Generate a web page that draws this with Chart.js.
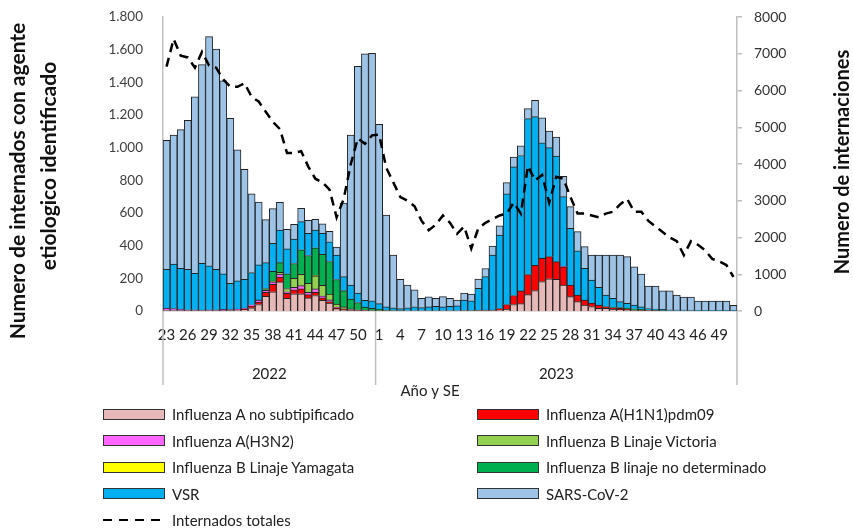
<!DOCTYPE html>
<html>
<head>
<meta charset="utf-8">
<script src="https://cdn.jsdelivr.net/npm/chart.js@4.4.1/dist/chart.umd.min.js"></script>
<style>
  html, body { margin: 0; padding: 0; background: #fff; }
  #wrap { position: relative; width: 853px; height: 529px; }
  #legend { position: absolute; left: 0; top: 0; font-family: Lato, 'Liberation Sans', sans-serif; font-size: 15px; color: #222; }
  .item { position: absolute; display: flex; align-items: center; height: 20px; white-space: nowrap; }
  .swatch { width: 60px; height: 9px; border: 1px solid #333; margin-right: 7px; }
  .dash { width: 62px; height: 2.5px; margin-right: 7px; background: repeating-linear-gradient(90deg, #000 0 9px, transparent 9px 16px); }
</style>
</head>
<body>
<div id="wrap">
  <canvas id="chart" width="853" height="529"></canvas>
  <div id="legend"></div>
</div>
<script>
// Semanas epidemiologicas: 2022 SE 23-52, 2023 SE 1-51
const weeks = [
  '23','24','25','26','27','28','29','30','31','32','33','34','35','36','37',
  '38','39','40','41','42','43','44','45','46','47','48','49','50','51','52',
  '1','2','3','4','5','6','7','8','9','10','11','12','13','14','15','16','17',
  '18','19','20','21','22','23','24','25','26','27','28','29','30','31','32',
  '33','34','35','36','37','38','39','40','41','42','43','44','45','46','47',
  '48','49','50','51'
];
const years = ['2022', '2023'];
const weeksPerYear = [30, 51];

// Internados por agente (eje izquierdo)
const fluANoSub = [
  3,3,3,2,2,2,2,2,2,3,5,8,20,40,90,118,178,78,105,105,80,95,65,48,15,5,3,2,2,2,
  2,2,1,1,1,1,1,1,1,1,1,1,2,2,3,3,3,5,10,40,45,100,125,180,197,194,159,88,57,37,
  27,16,16,10,8,5,3,2,2,1,1,1,1,1,1,0,0,0,0,0,0
];
const fluH1N1 = [
  0,0,0,0,0,0,0,0,0,0,2,5,10,15,25,45,30,30,25,30,20,20,15,10,5,5,3,2,2,0,
  0,0,0,0,0,0,0,0,0,0,0,0,0,0,1,2,3,10,30,55,78,123,155,142,136,108,112,71,41,30,
  22,21,11,10,8,5,3,2,1,1,0,0,0,0,0,0,0,0,0,0,0
];
const fluH3N2 = [
  15,12,8,5,5,3,5,5,8,5,5,5,8,10,12,15,18,10,15,20,15,20,12,10,3,3,2,0,0,0,
  0,0,0,0,0,0,0,0,0,0,0,0,0,0,0,0,0,0,0,0,0,0,0,2,0,0,2,0,0,0,
  0,0,0,0,0,0,0,0,0,0,0,0,0,0,0,0,0,0,0,0,0
];
const fluBVictoria = [
  0,0,0,0,0,0,0,0,0,0,0,0,0,0,3,5,10,20,55,70,55,80,65,35,20,12,5,3,0,0,
  0,0,0,0,0,0,0,0,0,0,0,0,0,0,0,0,0,0,0,0,0,0,0,0,0,0,0,0,0,0,
  0,0,0,0,0,0,0,0,0,0,0,0,0,0,0,0,0,0,0,0,0
];
const fluBYamagata = [
  0,0,0,0,0,0,0,0,0,0,0,0,0,0,0,0,0,0,1,0,0,2,0,0,0,0,0,0,0,0,
  0,0,0,0,0,0,0,0,0,0,0,0,0,0,0,0,0,0,0,0,0,0,0,0,0,0,0,0,0,0,
  0,0,0,0,0,0,0,0,0,0,0,0,0,0,0,0,0,0,0,0,0
];
const fluBNoDet = [
  0,0,0,0,0,0,0,0,0,0,0,0,0,3,8,60,60,90,90,150,170,170,190,200,150,100,60,45,20,15,
  10,3,2,1,0,0,0,0,0,0,0,0,0,0,0,0,0,0,0,0,0,0,0,0,0,0,0,0,0,0,
  0,0,0,3,5,8,8,6,3,2,1,0,0,0,0,0,0,0,0,0,0
];
const vsr = [
  237,273,250,248,224,287,270,248,217,162,172,176,197,214,158,171,200,152,149,172,136,109,129,121,150,85,85,58,42,45,
  33,20,17,13,19,25,20,24,28,24,27,30,65,60,135,205,337,450,677,787,829,955,910,706,667,646,427,347,271,194,
  141,108,71,55,36,29,23,15,9,8,8,6,5,5,4,3,3,3,2,2,2
];
const sarsCov2 = [
  790,789,849,912,1081,1216,1403,1348,1182,1010,802,674,482,385,263,213,169,120,90,82,79,65,57,64,49,450,919,1388,1509,1515,
  1098,563,323,179,139,103,57,61,49,63,50,36,43,42,56,50,54,56,69,61,60,61,100,153,102,117,124,133,117,133,
  153,198,245,265,286,286,234,201,138,141,113,116,92,79,80,57,57,57,58,58,32
];

// Internados totales (eje derecho)
const internadosTotales = [
  6650,7400,6950,6900,6620,7050,6680,6620,6300,6100,6100,6200,5830,5700,5420,
  5150,4950,4300,4300,4350,3930,3600,3500,3300,2550,3050,4000,4700,4550,4780,
  4800,3900,3500,3100,3000,2850,2450,2200,2350,2600,2400,2100,2300,1700,2250,
  2400,2500,2600,2650,2950,2650,3950,3550,3700,2950,3650,3600,3100,2650,2650,
  2600,2550,2650,2700,2900,3050,2700,2700,2450,2300,2150,2000,1900,1520,1900,
  1800,1650,1420,1350,1250,930
];

const FONT = "Lato, 'Liberation Sans', sans-serif";
Chart.defaults.font.family = FONT;
Chart.defaults.color = '#333';

const barSeries = [
  ['Influenza A no subtipificado', fluANoSub, '#E6B9B8'],
  ['Influenza A(H1N1)pdm09', fluH1N1, '#FF0000'],
  ['Influenza A(H3N2)', fluH3N2, '#FF66FF'],
  ['Influenza B Linaje Victoria', fluBVictoria, '#92D050'],
  ['Influenza B Linaje Yamagata', fluBYamagata, '#FFFF00'],
  ['Influenza B linaje no determinado', fluBNoDet, '#00B050'],
  ['VSR', vsr, '#00B0F0'],
  ['SARS-CoV-2', sarsCov2, '#9DC3E6']
];

const datasets = barSeries.map(([label, data, color]) => ({
  type: 'bar',
  label: label,
  data: data,
  backgroundColor: color,
  borderColor: '#222',
  borderWidth: 1,
  barPercentage: 1,
  categoryPercentage: 1,
  yAxisID: 'y',
  order: 1
}));
datasets.push({
  type: 'line',
  label: 'Internados totales',
  data: internadosTotales,
  borderColor: '#000',
  borderWidth: 2.5,
  borderDash: [9, 6],
  pointRadius: 0,
  fill: false,
  tension: 0,
  yAxisID: 'y2',
  order: 0
});

// year row, dividers and titles
const extrasPlugin = {
  id: 'extras',
  afterDraw(chart) {
    const { ctx, chartArea, scales } = chart;
    const x = scales.x;
    const bottom = chartArea.bottom;
    const split = (x.getPixelForValue(weeksPerYear[0] - 1) + x.getPixelForValue(weeksPerYear[0])) / 2;
    const edges = [chartArea.left, split, chartArea.right];
    ctx.save();
    ctx.strokeStyle = '#bfbfbf';
    ctx.lineWidth = 1.5;
    edges.forEach(px => {
      ctx.beginPath();
      ctx.moveTo(px, bottom);
      ctx.lineTo(px, bottom + 74);
      ctx.stroke();
    });
    ctx.fillStyle = '#222';
    ctx.font = '15px ' + FONT;
    ctx.textAlign = 'center';
    ctx.textBaseline = 'middle';
    ctx.fillText(years[0], (edges[0] + edges[1]) / 2, bottom + 63);
    ctx.fillText(years[1], (edges[1] + edges[2]) / 2, bottom + 63);
    ctx.fillText('Año y SE', 430, bottom + 80);

    ctx.fillStyle = '#111';
    const vtext = (txt, cx, cy) => {
      ctx.save();
      ctx.translate(cx, cy);
      ctx.rotate(-Math.PI / 2);
      ctx.fillText(txt, 0, 0);
      ctx.restore();
    };
    ctx.font = 'bold 21px ' + FONT;
    vtext('Numero de internados con agente', 18, 181);
    vtext('etiologico identificado', 49, 166);
    ctx.font = 'bold 20px ' + FONT;
    vtext('Numero de internaciones', 843, 162);
    ctx.restore();
  }
};

// vertical axes: fixed width, no extra label padding at top/bottom
const fitY = width => scale => {
  scale.width = width;
  scale.paddingTop = 0;
  scale.paddingBottom = 0;
};

const chart = new Chart(document.getElementById('chart'), {
  data: { labels: weeks, datasets: datasets },
  options: {
    responsive: false,
    animation: false,
    layout: { padding: { top: 17, right: 0, bottom: 130, left: 0 } },
    plugins: {
      legend: { display: false },
      tooltip: { enabled: false }
    },
    scales: {
      x: {
        stacked: true,
        grid: { display: false },
        border: { display: true, color: '#bfbfbf', width: 1.5 },
        ticks: {
          autoSkip: false,
          maxRotation: 0,
          padding: 7,
          color: '#222',
          font: { size: 15 },
          callback: function (value, index) {
            return index % 3 === 0 ? this.getLabelForValue(value) : '';
          }
        },
        afterFit(scale) { scale.height = 88; }
      },
      y: {
        stacked: true,
        min: 0,
        max: 1800,
        grid: { display: false },
        border: { display: true, color: '#bfbfbf', width: 1.5 },
        ticks: {
          stepSize: 200,
          padding: 12,
          color: '#404040',
          font: { size: 13.5 },
          callback: v => String(v).replace(/\B(?=(\d{3})+(?!\d))/g, '.')
        },
        afterFit: fitY(163)
      },
      y2: {
        position: 'right',
        min: 0,
        max: 8000,
        grid: { display: true, drawOnChartArea: false, drawTicks: true, tickLength: 5, color: '#bfbfbf', lineWidth: 1.5 },
        border: { display: true, color: '#bfbfbf', width: 1.5 },
        ticks: {
          stepSize: 1000,
          padding: 12,
          color: '#333',
          font: { size: 14 },
          callback: v => String(v)
        },
        afterFit: fitY(116)
      }
    }
  },
  plugins: [extrasPlugin]
});

// legend in two columns, same order as the datasets
const legendEl = document.getElementById('legend');
chart.data.datasets.forEach((ds, i) => {
  const item = document.createElement('div');
  item.className = 'item';
  item.style.left = (i % 2 ? 477 : 103) + 'px';
  item.style.top = (404 + Math.floor(i / 2) * 26.5) + 'px';
  const mark = document.createElement('span');
  if (ds.type === 'line') {
    mark.className = 'dash';
  } else {
    mark.className = 'swatch';
    mark.style.background = ds.backgroundColor;
  }
  const text = document.createElement('span');
  text.textContent = ds.label;
  item.appendChild(mark);
  item.appendChild(text);
  legendEl.appendChild(item);
});
</script>
</body>
</html>
